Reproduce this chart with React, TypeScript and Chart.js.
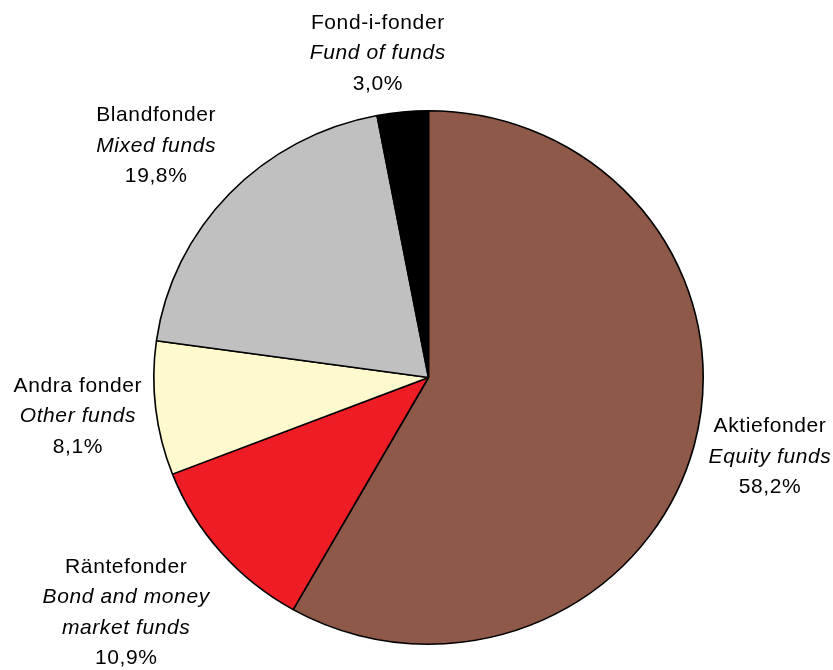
import React, { useEffect, useRef } from "react";
import { Chart, registerables } from "chart.js";

Chart.register(...registerables);

const categoriesSv = ["Aktiefonder", "Räntefonder", "Andra fonder", "Blandfonder", "Fond-i-fonder"];
const categoriesEn = [["Equity funds"], ["Bond and money", "market funds"], ["Other funds"], ["Mixed funds"], ["Fund of funds"]];
const shares = [58.2, 10.9, 8.1, 19.8, 3.0];
const shareLabels = ["58,2%", "10,9%", "8,1%", "19,8%", "3,0%"];
const colors = ["#8E5949", "#EE1C25", "#FFFACD", "#C0C0C0", "#000000"];

// layout (not data): small manual label nudges, vertical squash of the pie
const labelNudge = [
  [2, -4],
  [-20, 11],
  [1, 1],
  [-19, -6],
  [-17, 2],
];
const Y_SCALE = 0.971;

const FONT = "'Liberation Sans', Arial, sans-serif";
const FONT_SIZE = 21;
const LINE_H = 30.5;

const squashPlugin = {
  id: "squash",
  beforeDatasetsDraw(chart: any) {
    const arc = chart.getDatasetMeta(0).data[0];
    if (!arc) return;
    const ctx = chart.ctx;
    ctx.save();
    ctx.translate(arc.x, arc.y);
    ctx.scale(1, Y_SCALE);
    ctx.translate(-arc.x, -arc.y);
  },
  afterDatasetsDraw(chart: any) {
    chart.ctx.restore();
  },
};

const labelPlugin = {
  id: "outerLabels",
  afterDraw(chart: any) {
    const ctx = chart.ctx;
    const meta = chart.getDatasetMeta(0);
    ctx.save();
    ctx.fillStyle = "#000";
    ctx.textAlign = "center";
    ctx.textBaseline = "middle";
    try {
      (ctx as any).letterSpacing = "0.6px";
    } catch (e) {}
    meta.data.forEach((arc: any, i: number) => {
      const lines: { t: string; it: boolean }[] = [
        { t: categoriesSv[i], it: false },
        ...categoriesEn[i].map((t) => ({ t, it: true })),
        { t: shareLabels[i], it: false },
      ];
      let w = 0;
      lines.forEach((l) => {
        ctx.font = `${l.it ? "italic " : ""}${FONT_SIZE}px ${FONT}`;
        w = Math.max(w, ctx.measureText(l.t).width);
      });
      const h = lines.length * LINE_H;
      const mid = (arc.startAngle + arc.endAngle) / 2;
      const c = Math.cos(mid);
      const s = Math.sin(mid);
      const gap = 15;
      const ax = arc.x + (arc.outerRadius + gap) * c;
      const ay = arc.y + (arc.outerRadius * Y_SCALE + gap) * s;
      const cx = ax + (c * w) / 2 + labelNudge[i][0];
      const cy = ay + (s * h) / 2 + labelNudge[i][1];
      lines.forEach((l, k) => {
        ctx.font = `${l.it ? "italic " : ""}${FONT_SIZE}px ${FONT}`;
        ctx.fillText(l.t, cx, cy - h / 2 + LINE_H * (k + 0.5));
      });
    });
    ctx.restore();
  },
};

export default function App() {
  const ref = useRef<HTMLCanvasElement | null>(null);
  useEffect(() => {
    if (!ref.current) return;
    const chart = new Chart(ref.current, {
      type: "pie",
      data: {
        labels: categoriesSv,
        datasets: [
          {
            data: shares,
            backgroundColor: colors,
            borderColor: "#000",
            borderWidth: 1.6,
          },
        ],
      },
      options: {
        responsive: false,
        animation: false,
        layout: { padding: { left: 153, right: 129, top: 102, bottom: 17 } },
        plugins: { legend: { display: false }, tooltip: { enabled: false } },
      },
      plugins: [squashPlugin, labelPlugin],
    });
    return () => chart.destroy();
  }, []);
  return (
    <div style={{ position: "absolute", left: 0, top: 0, width: 833, height: 670, background: "#fff" }}>
      <canvas ref={ref} width={833} height={670} />
    </div>
  );
}
